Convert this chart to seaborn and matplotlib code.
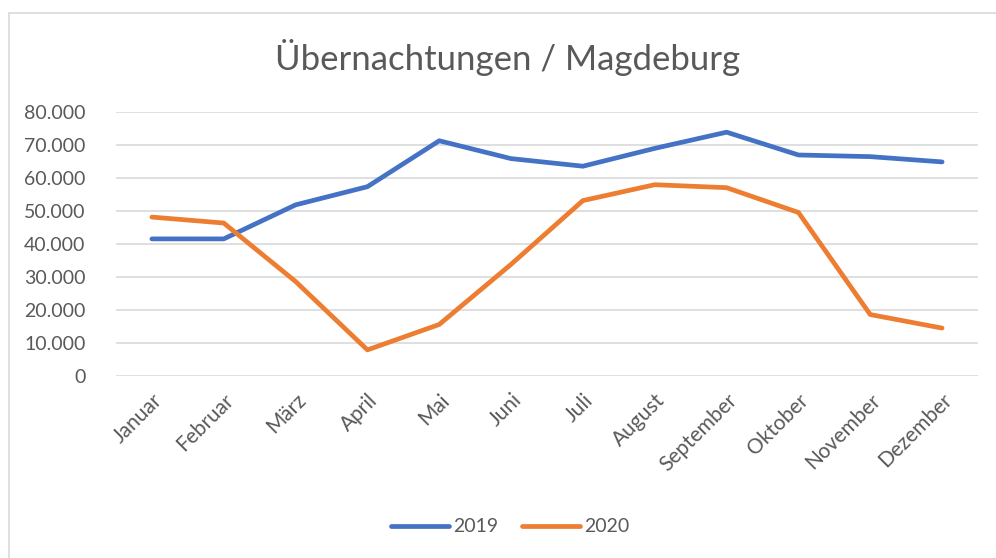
import matplotlib
matplotlib.use("Agg")
import matplotlib.pyplot as plt
import seaborn as sns
import pandas as pd
from matplotlib.lines import Line2D
from matplotlib.ticker import FuncFormatter

months = ["Januar", "Februar", "März", "April", "Mai", "Juni", "Juli",
          "August", "September", "Oktober", "November", "Dezember"]
v2019 = [41500, 41500, 51800, 57300, 71200, 65800, 63500, 68900, 73800, 66900, 66400, 64800]
v2020 = [48100, 46300, 28600, 7900, 15600, 33800, 53100, 57900, 57000, 49500, 18600, 14500]
series = ["2019", "2020"]
colors = ["#4472C4", "#ED7D31"]
title = "Übernachtungen / Magdeburg"

sns.set_theme(style="white")
plt.rcParams["font.family"] = ["Lato", "DejaVu Sans"]
txt = "#595959"

df = pd.DataFrame({
    "Monat": months * 2,
    "idx": list(range(12)) * 2,
    "Wert": v2019 + v2020,
    "Jahr": [series[0]] * 12 + [series[1]] * 12,
})

fig = plt.figure(figsize=(9.96, 5.58), dpi=100)
ax = fig.add_axes([116 / 996, 1 - 376 / 558, (978 - 116) / 996, (376 - 111.7) / 558])

sns.lineplot(data=df, x="idx", y="Wert", hue="Jahr", palette=colors,
             linewidth=3.4, ax=ax, legend=False, solid_capstyle="round")

ax.set_xlim(-0.5, 11.5)
ax.set_ylim(0, 80000)
ax.set_yticks(range(0, 80001, 10000))
ax.yaxis.set_major_formatter(FuncFormatter(lambda v, p: f"{int(v):,}".replace(",", ".")))
ax.set_xticks(range(12))
ax.set_xticklabels(months, rotation=45, ha="right", rotation_mode="anchor")
ax.grid(axis="y", color="#D9D9D9", linewidth=1.2)
ax.set_axisbelow(True)
for s in ax.spines.values():
    s.set_visible(False)
ax.tick_params(axis="y", length=0, pad=22, labelsize=14, labelcolor=txt)
ax.tick_params(axis="x", length=0, pad=10, labelsize=15, labelcolor=txt)
ax.set_xlabel("")
ax.set_ylabel("")

fig.text(508 / 996, 1 - 58 / 558, title, ha="center", va="center", fontsize=25, color=txt)

handles = [Line2D([0], [0], color=c, linewidth=3.4, solid_capstyle="round") for c in colors]
fig.legend(handles, series, loc="center", bbox_to_anchor=(510 / 996, 1 - 527 / 558),
           ncol=2, frameon=False, fontsize=14, labelcolor=txt, handlelength=3.0,
           handletextpad=0.2, columnspacing=1.2)

# chart border (left and top visible)
fig.add_artist(Line2D([9 / 996, 9 / 996], [0, 1 - 13 / 558], transform=fig.transFigure,
                      color="#D9D9D9", linewidth=1.2))
fig.add_artist(Line2D([9 / 996, 1], [1 - 13 / 558, 1 - 13 / 558], transform=fig.transFigure,
                      color="#D9D9D9", linewidth=1.2))

fig.savefig("out.png", dpi=100)
